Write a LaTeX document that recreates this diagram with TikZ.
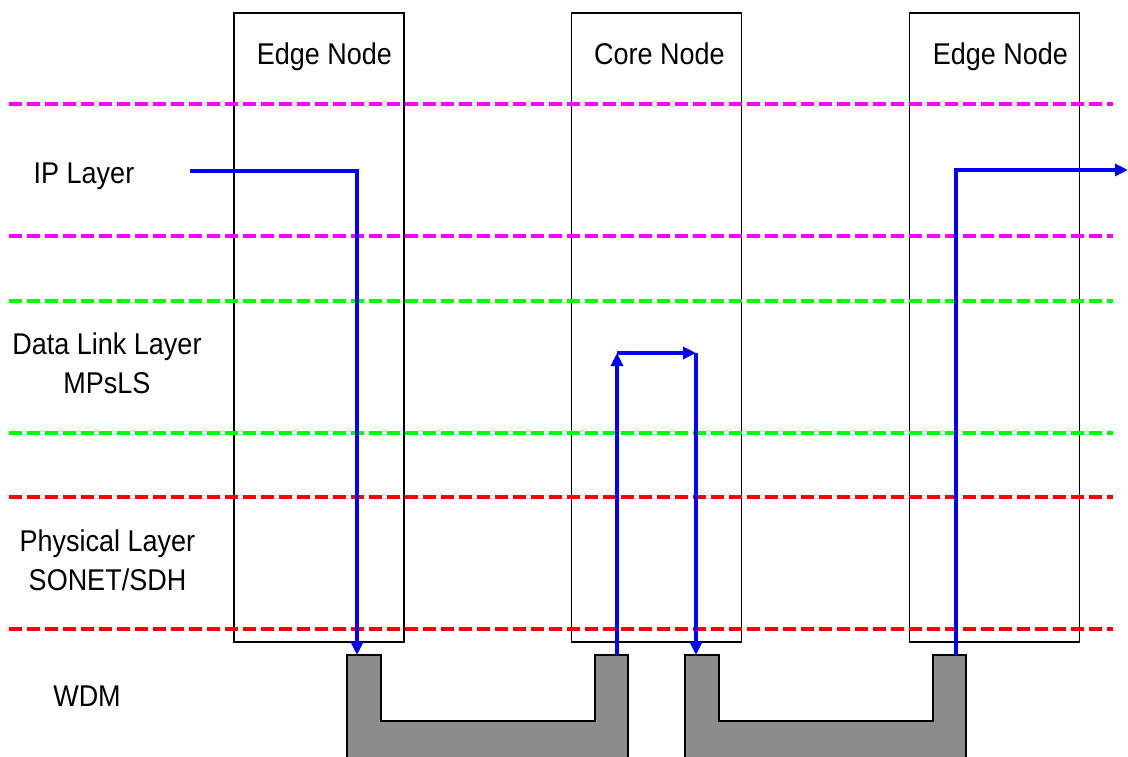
\documentclass[tikz,border=0pt]{standalone}
\usepackage{fontspec}
\setmainfont{Liberation Sans}[FakeStretch=0.9]
\usetikzlibrary{arrows.meta}
\definecolor{ipcol}{RGB}{255,0,255}
\definecolor{dlcol}{RGB}{0,255,0}
\definecolor{phcol}{RGB}{255,0,0}
\definecolor{sigcol}{RGB}{0,0,255}
\begin{document}
\begin{tikzpicture}[x=1pt,y=-1pt,
  nodebox/.style={draw=black,line width=1.8pt,minimum width=170pt,minimum height=629pt,inner sep=0pt},
  lbl/.style={font=\fontsize{30}{38.5}\selectfont,inner sep=0pt,align=center,anchor=base},
  layer/.style={line width=3.2pt,dash pattern=on 13pt off 5pt},
  flow/.style={draw=sigcol,line width=3.2pt},
  tip/.style={-{Triangle[length=13pt,width=12pt]}},
  fibre/.style={draw=black,line width=2pt,fill=black!45}]
\useasboundingbox (0,0) rectangle (1128,757);

% network element columns
\node[nodebox] (e1) at (319,327.5) {};
\node[nodebox] (c1) at (656.5,327.5) {};
\node[nodebox] (e2) at (994.5,327.5) {};
\node[lbl] (e1t) at (324.5,65) {Edge Node};
\node[lbl] (c1t) at (659.5,65) {Core Node};
\node[lbl] (e2t) at (1000.5,65) {Edge Node};

% layer boundaries
\draw[layer,draw=ipcol] (9,104) -- (1113,104);
\draw[layer,draw=ipcol] (9,236) -- (1113,236);
\draw[layer,draw=dlcol] (9,301) -- (1113,301);
\draw[layer,draw=dlcol] (9,433) -- (1113,433);
\draw[layer,draw=phcol] (9,497) -- (1113,497);
\draw[layer,draw=phcol] (9,629) -- (1113,629);

% layer names (two-line labels sit on the baseline of their second line)
\node[lbl] (ip) at (84,184) {IP Layer};
\node[lbl] (dl) at (107,393) {Data Link Layer\\MPsLS};
\node[lbl] (ph) at (107.5,590) {Physical Layer\\SONET/SDH};
\node[lbl] (wdm) at (87,706) {WDM};

% WDM fibre spans
\draw[fibre] (347,770) -- (347,655) -- (381,655) -- (381,721) -- (595,721)
  -- (595,655) -- (628,655) -- (628,770);
\draw[fibre] (685,770) -- (685,655) -- (719,655) -- (719,721) -- (933,721)
  -- (933,655) -- (966,655) -- (966,770);

% signal path
\coordinate (s0) at (190,171);
\coordinate (s1) at (357,171);
\coordinate (w1) at (357,655);
\coordinate (w2) at (617,655);
\coordinate (m1) at (617,353);
\coordinate (m2) at (696,353);
\coordinate (w3) at (696,655);
\coordinate (w4) at (956,655);
\coordinate (t1) at (956,170);
\coordinate (t2) at (1128,170);

\draw[flow,tip] (s0) -- (s1) -- (w1);
\draw[flow,tip] (w2) -- (m1);
\draw[flow,tip] (m1) -- (m2);
\draw[flow,tip] (m2) -- (w3);
\draw[flow,tip] (w4) -- (t1) -- (t2);
\end{tikzpicture}
\end{document}
